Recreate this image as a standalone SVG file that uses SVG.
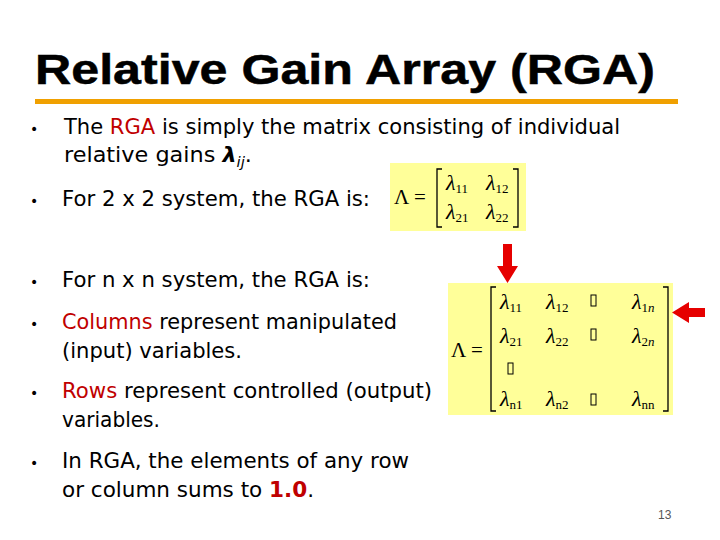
<svg xmlns="http://www.w3.org/2000/svg" width="720" height="540" viewBox="0 0 720 540">
<style>
.t{font-family:"DejaVu Sans",Verdana,sans-serif;font-size:21px;fill:#000}
.b{font-family:"DejaVu Sans",sans-serif;font-size:14px;fill:#000}
.r{fill:#c00000}
.m{font-family:"Liberation Serif","Times New Roman",serif;font-size:22px;font-style:italic;fill:#000}
.s{font-size:13px;font-style:normal}
.L{font-family:"Liberation Serif",serif;font-size:21px;fill:#000}
.br{fill:none;stroke:#000;stroke-width:1.3}
.box{fill:#ffff99}
.e{fill:none;stroke:#000;stroke-width:1}
</style>
<rect width="720" height="540" fill="#fff"/>
<text x="35" y="84" font-family="Liberation Sans,Arial,sans-serif" font-weight="bold" font-size="42" textLength="620" lengthAdjust="spacingAndGlyphs" stroke="#000" stroke-width="0.5">Relative Gain Array (RGA)</text>
<rect x="35" y="99" width="643" height="5" fill="#f0a000"/>
<g id="text">
<text class="b" x="30" y="134">•</text>
<text class="t" x="64" y="134" textLength="556" lengthAdjust="spacingAndGlyphs">The <tspan class="r">RGA</tspan> is simply the matrix consisting of individual</text>
<text class="t" x="64" y="162" textLength="188" lengthAdjust="spacingAndGlyphs">relative gains <tspan font-weight="bold" font-style="italic">λ</tspan><tspan font-style="italic" font-size="14" dy="5">ij</tspan><tspan dy="-5">.</tspan></text>
<text class="b" x="30" y="206">•</text><text class="t" x="62" y="206" textLength="308" lengthAdjust="spacingAndGlyphs">For 2 x 2 system, the RGA is:</text>
<text class="b" x="30" y="287">•</text><text class="t" x="62" y="287" textLength="308" lengthAdjust="spacingAndGlyphs">For n x n system, the RGA is:</text>
<text class="b" x="30" y="329">•</text><text class="t" x="62" y="329" textLength="335" lengthAdjust="spacingAndGlyphs"><tspan class="r">Columns</tspan> represent manipulated</text>
<text class="t" x="62" y="358" textLength="180" lengthAdjust="spacingAndGlyphs">(input) variables.</text>
<text class="b" x="30" y="398">•</text><text class="t" x="62" y="398" textLength="370" lengthAdjust="spacingAndGlyphs"><tspan class="r">Rows</tspan> represent controlled (output)</text>
<text class="t" x="62" y="427" textLength="98" lengthAdjust="spacingAndGlyphs">variables.</text>
<text class="b" x="30" y="468">•</text><text class="t" x="62" y="468" textLength="347" lengthAdjust="spacingAndGlyphs">In RGA, the elements of any row</text>
<text class="t" x="62" y="497" textLength="252" lengthAdjust="spacingAndGlyphs">or column sums to <tspan class="r" font-weight="bold">1.0</tspan>.</text>
<text x="658" y="519" font-family="Liberation Sans,Arial,sans-serif" font-size="12" fill="#555">13</text>
</g>
<g id="matrix2">
<rect class="box" x="390" y="163" width="136" height="68"/>
<text class="L" x="394" y="204">Λ =</text>
<path class="br" d="M442,169 h-5 v58 h5 M513,169 h5 v58 h-5"/>
<text class="m" x="446" y="190">λ<tspan class="s" dy="3">11</tspan></text>
<text class="m" x="486" y="190">λ<tspan class="s" dy="3">12</tspan></text>
<text class="m" x="446" y="219">λ<tspan class="s" dy="3">21</tspan></text>
<text class="m" x="486" y="219">λ<tspan class="s" dy="3">22</tspan></text>
</g>
<g id="matrixn">
<rect class="box" x="448" y="283" width="225" height="132"/>
<text class="L" x="451" y="357">Λ =</text>
<path class="br" d="M496,287 h-5 v124 h5 M663,287 h5 v124 h-5"/>
<text class="m" x="500" y="309">λ<tspan class="s" dy="3">11</tspan></text>
<text class="m" x="546" y="309">λ<tspan class="s" dy="3">12</tspan></text>
<text class="m" x="632" y="309">λ<tspan class="s" dy="3">1<tspan font-style="italic">n</tspan></tspan></text>
<text class="m" x="500" y="343">λ<tspan class="s" dy="3">21</tspan></text>
<text class="m" x="546" y="343">λ<tspan class="s" dy="3">22</tspan></text>
<text class="m" x="632" y="343">λ<tspan class="s" dy="3">2<tspan font-style="italic">n</tspan></tspan></text>
<text class="m" x="500" y="406">λ<tspan class="s" dy="3" font-style="italic">n</tspan><tspan class="s">1</tspan></text>
<text class="m" x="546" y="406">λ<tspan class="s" dy="3" font-style="italic">n</tspan><tspan class="s">2</tspan></text>
<text class="m" x="632" y="406">λ<tspan class="s" dy="3" font-style="italic">nn</tspan></text>
<rect class="e" x="591" y="295" width="5" height="11"/>
<rect class="e" x="591" y="329" width="5" height="11"/>
<rect class="e" x="508" y="363" width="5" height="11"/>
<rect class="e" x="591" y="394" width="5" height="11"/>
</g>
<g id="connectors">
<polygon points="503,244 512,244 512,266 518,266 507.5,283 497,266 503,266" fill="#e60000"/>
<polygon points="705,308 705,317 689,317 689,323 672,312.5 689,302 689,308" fill="#e60000"/>
</g>
</svg>
